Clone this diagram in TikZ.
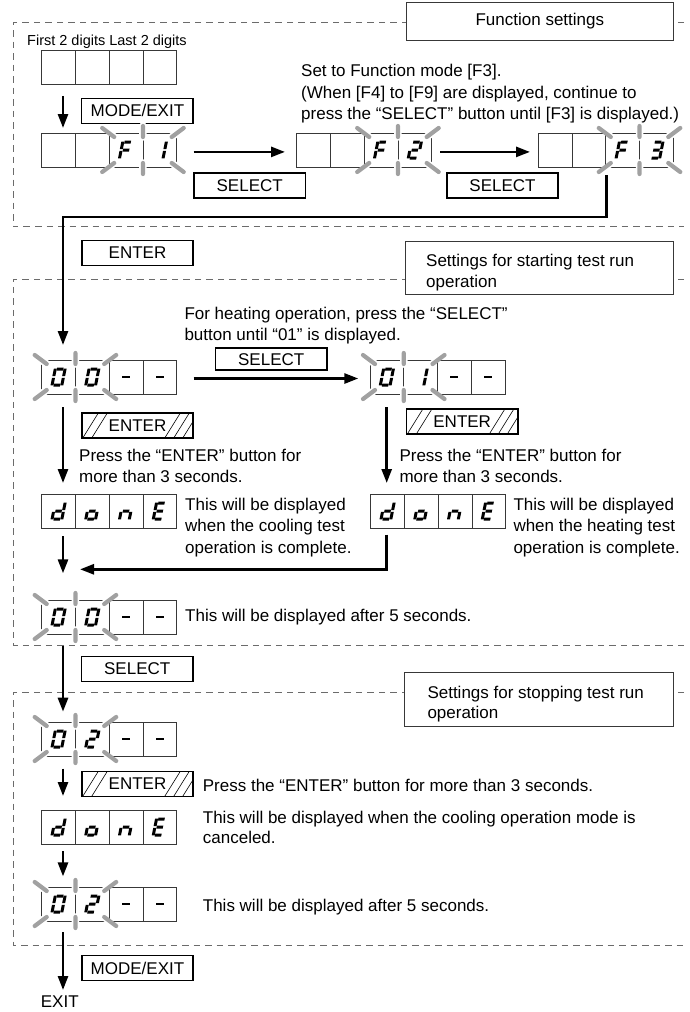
\documentclass[tikz,border=0pt]{standalone}
\usepackage{fontspec}
\setmainfont{Liberation Sans}
\usetikzlibrary{arrows.meta,calc}
\definecolor{raygray}{gray}{0.63}
\definecolor{dashgray}{gray}{0.42}
\definecolor{linegray}{gray}{0.22}
\newcommand\fs{\fontsize{17}{20}\selectfont}

\def\SEGa{(-3.2,-9.5) rectangle (3.2,-6.5)}
\def\SEGb{(3.4,-8.3) rectangle (6.4,-0.8)}
\def\SEGc{(3.4,0.8) rectangle (6.4,8.3)}
\def\SEGd{(-3.2,6.5) rectangle (3.2,9.5)}
\def\SEGe{(-6.4,0.8) rectangle (-3.4,8.3)}
\def\SEGf{(-6.4,-8.3) rectangle (-3.4,-0.8)}
\def\SEGg{(-3.2,-1.5) rectangle (3.2,1.5)}
\def\dashtok{-}

\newcommand\dig[3]{%
  \def\dgarg{#3}%
  \ifx\dgarg\empty\else
    \ifx\dgarg\dashtok
      \fill[black] ($(#1,#2)+(-4,-1.3)$) rectangle ($(#1,#2)+(4,1.3)$);
    \else
      \begin{scope}[shift={(#1,#2)},xslant=0.2]
        \foreach \s in {#3}{\edef\tmp{\noexpand\fill[black] \csname SEG\s\endcsname;}\tmp}
      \end{scope}
    \fi
  \fi}

\newcommand\rayset[4]{%
  \draw[#1] (#2-7,\yT-5)--(#2+5,\yT+4) (#4+7,\yT-5)--(#4-5,\yT+4)
    (#2-7,\yB+5)--(#2+5,\yB-4) (#4+7,\yB+5)--(#4-5,\yB-4)
    (#3,\yT-7)--(#3,\yT+4) (#3,\yB+7)--(#3,\yB-4);}

\newcommand\disp[8]{%
  \node[dispnode,anchor=north west] (#1) at (#2,#3) {};
  \pgfmathsetmacro\xA{#2}\pgfmathsetmacro\xB{#2+33.75}\pgfmathsetmacro\xC{#2+67.5}%
  \pgfmathsetmacro\xD{#2+101.25}\pgfmathsetmacro\xE{#2+135}%
  \pgfmathsetmacro\yT{#3}\pgfmathsetmacro\yB{#3+34}\pgfmathsetmacro\yM{#3+17}%
  \draw[cellline] (\xA,\yT) rectangle (\xE,\yB) (\xB,\yT)--(\xB,\yB) (\xC,\yT)--(\xC,\yB) (\xD,\yT)--(\xD,\yB);
  \ifcase#4\relax\or
    \rayset{halo}{\xA}{\xB}{\xC}
    \draw[cellline] (\xC,\yT) rectangle (\xE,\yB) (\xD,\yT)--(\xD,\yB);
    \rayset{ray}{\xA}{\xB}{\xC}
  \or
    \rayset{halo}{\xC}{\xD}{\xE}
    \draw[cellline] (\xA,\yT) rectangle (\xC,\yB) (\xB,\yT)--(\xB,\yB);
    \rayset{ray}{\xC}{\xD}{\xE}
  \fi
  \dig{\xA+16.875}{\yM}{#5}%
  \dig{\xB+16.875}{\yM}{#6}%
  \dig{\xC+16.875}{\yM}{#7}%
  \dig{\xD+16.875}{\yM}{#8}}

\tikzset{
  dispnode/.style={draw=none,minimum width=135,minimum height=34,inner sep=0},
  cellline/.style={draw=linegray,line width=0.9},
  halo/.style={white,line width=7.5,line cap=round},
  ray/.style={raygray,line width=4.2,line cap=round},
  dashline/.style={dashgray,line width=0.9,dash pattern=on 6.5pt off 5pt},
  hdr/.style={draw=linegray,line width=0.9,fill=white,inner sep=0,font=\fs},
  btn/.style={draw=black,line width=1.6,fill=white,minimum width=111.5,minimum height=25,inner sep=0,font=\fs},
  hatchbtn/.style={btn,path picture={
      \foreach \o in {1,10,83,92,101}{
        \draw[line width=0.6] ($(path picture bounding box.south west)+(\o,0)$) -- ++(16,-25.7);}}},
  conn/.style={line width=2.7,-{Triangle[length=14pt,width=10pt]}},
  txt/.style={inner sep=0,anchor=base west,font=\fs},
}

\begin{document}
\begin{tikzpicture}[x=1pt,y=-1pt]
\useasboundingbox (0,0) rectangle (689,1012);

% dashed section frames
\draw[dashline] (684,22.7) -- (13,22.7) -- (13,226.7) -- (684,226.7);
\draw[dashline] (684,279.3) -- (13,279.3) -- (13,645) -- (684,645);
\draw[dashline] (684,692.7) -- (13,692.7) -- (13,945) -- (684,945);

% header boxes
\node[hdr,minimum width=266.3,minimum height=37.3] (hdr1) at (539.85,21.35) {Function settings};
\node[hdr,minimum width=268.3,minimum height=52.3] (hdr2) at (539.15,267.85) {};
\node[txt] (hdr2a) at (426,266) {Settings for starting test run};
\node[txt] (hdr2b) at (426,287) {operation};
\node[hdr,minimum width=269,minimum height=54] (hdr3) at (538.8,699.7) {};
\node[txt] (hdr3a) at (427.3,698) {Settings for stopping test run};
\node[txt] (hdr3b) at (427.3,718.5) {operation};

% section 1
\node[txt,font=\fontsize{14.5}{17}\selectfont] (digits) at (27,45) {First 2 digits Last 2 digits};
\disp{dtop}{41.7}{50.5}{0}{}{}{}{}
\node[btn] (mode1) at (137.4,110.9) {MODE/EXIT};
\disp{df1}{41.7}{133}{2}{}{}{a,e,f,g}{b,c}
\disp{df2}{296.7}{133}{2}{}{}{a,e,f,g}{a,b,d,e,g}
\disp{df3}{538.3}{133}{2}{}{}{a,e,f,g}{a,b,c,d,g}
\node[btn] (sel1) at (249.7,185.2) {SELECT};
\node[btn] (sel2) at (502.5,185.2) {SELECT};
\node[txt] (s1a) at (301,76) {Set to Function mode [F3].};
\node[txt] (s1b) at (301,98) {(When [F4] to [F9] are displayed, continue to};
\node[txt] (s1c) at (301,119.5) {press the “SELECT” button until [F3] is displayed.)};

\draw[conn] ($(dtop.south west)+(21.3,11)$) -- ($(df1.north west)+(21.3,-5)$);
\draw[conn] ($(df1.east)+(16.6,1.7)$) -- ($(df2.west)+(-11.7,1.7)$);
\draw[conn] ($(df2.east)+(8,1.7)$) -- ($(df3.west)+(-8.3,1.7)$);

% ENTER between sections
\node[btn] (enter1) at (137.5,252.9) {ENTER};

% section 2
\disp{d00}{41.7}{360}{1}{a,b,c,d,e,f}{a,b,c,d,e,f}{-}{-}
\disp{d01}{370}{360}{1}{a,b,c,d,e,f}{b,c}{-}{-}
\coordinate (c1) at ($(df3.south west)+(68.4,8)$);
\coordinate (c2) at ($(d00.north west)+(21.3,-15)$);
\draw[conn] (c1) -- ++(0,41.7) -| (c2);

\node[txt] (h1) at (184.3,319.3) {For heating operation, press the “SELECT”};
\node[txt] (h2) at (184.3,340) {button until “01” is displayed.};
\node[btn,minimum height=22] (sel3) at (271.2,359.2) {SELECT};
\draw[conn] ($(d00.east)+(16.6,1.3)$) -- ($(d01.west)+(-11.7,1.3)$);

\node[hatchbtn] (henter1) at (137.5,425.5) {ENTER};
\node[hatchbtn] (henter2) at (462.2,421.3) {ENTER};

\node[txt] (p1a) at (79,461.7) {Press the “ENTER” button for};
\node[txt] (p1b) at (79,482.7) {more than 3 seconds.};
\node[txt] (p2a) at (399.3,461.7) {Press the “ENTER” button for};
\node[txt] (p2b) at (399.3,482.7) {more than 3 seconds.};

\disp{ddone1}{41.7}{494}{0}{b,c,d,e,g}{c,d,e,g}{c,e,g}{a,d,e,f,g}
\disp{ddone2}{370.7}{494}{0}{b,c,d,e,g}{c,d,e,g}{c,e,g}{a,d,e,f,g}
\node[txt] (w1a) at (185,510.7) {This will be displayed};
\node[txt] (w1b) at (185,531.7) {when the cooling test};
\node[txt] (w1c) at (185,553.3) {operation is complete.};
\node[txt] (w2a) at (513.3,510.7) {This will be displayed};
\node[txt] (w2b) at (513.3,531.7) {when the heating test};
\node[txt] (w2c) at (513.3,553.3) {operation is complete.};

\draw[conn] ($(d00.south west)+(21.3,12.7)$) -- ($(ddone1.north west)+(21.3,-11)$);
\draw[conn] ($(d01.south west)+(16.7,12.7)$) -- ($(ddone2.north west)+(16,-11)$);

\disp{d00b}{41.7}{600}{1}{a,b,c,d,e,f}{a,b,c,d,e,f}{-}{-}
\node[txt] (a5) at (185,621.7) {This will be displayed after 5 seconds.};
\draw[conn] ($(ddone1.south west)+(21.3,7.7)$) -- ($(d00b.north west)+(21.3,-26.7)$);
\draw[conn] ($(ddone2.south west)+(16,6.3)$) |- ($(d00b.north west)+(38.3,-30.7)$);

% SELECT between sections
\node[btn] (sel4) at (137.2,669) {SELECT};

% section 3
\disp{d02}{41.7}{722}{1}{a,b,c,d,e,f}{a,b,d,e,g}{-}{-}
\draw[conn] ($(d00b.south west)+(21.3,12)$) -- ($(d02.north west)+(21.3,-10.3)$);
\node[hatchbtn] (henter3) at (137.5,783.8) {ENTER};
\node[txt] (p3) at (202.7,791.7) {Press the “ENTER” button for more than 3 seconds.};
\disp{ddone3}{41.7}{810}{0}{b,c,d,e,g}{c,d,e,g}{c,e,g}{a,d,e,f,g}
\draw[conn] ($(d02.south west)+(21.3,12.3)$) -- ($(ddone3.north west)+(21.3,-14)$);
\node[txt] (c3a) at (202.7,823.3) {This will be displayed when the cooling operation mode is};
\node[txt] (c3b) at (202.7,843.3) {canceled.};
\disp{d02b}{41.7}{887}{1}{a,b,c,d,e,f}{a,b,d,e,g}{-}{-}
\draw[conn] ($(ddone3.south west)+(21.3,6.7)$) -- ($(d02b.north west)+(21.3,-10.6)$);
\node[txt] (a6) at (202.7,911.7) {This will be displayed after 5 seconds.};

% exit
\node[btn] (mode2) at (137.5,968) {MODE/EXIT};
\coordinate (exitarr) at (63,990);
\draw[conn] ($(d02b.south west)+(21.3,11)$) -- (exitarr);
\node[txt] (exit) at (40.7,1007) {EXIT};
\end{tikzpicture}
\end{document}
